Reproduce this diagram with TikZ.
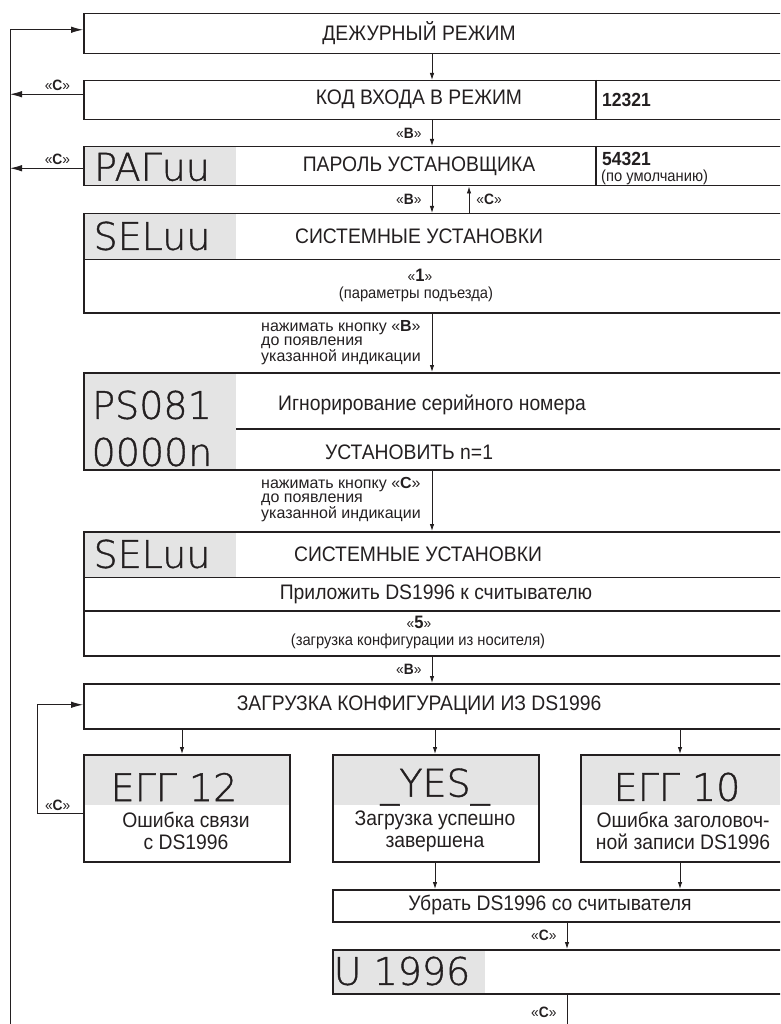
\documentclass[tikz,border=0pt]{standalone}
\usepackage{fontspec}
\setmainfont{Liberation Sans}[FakeStretch=0.92]
\newfontfamily\notefont{Liberation Sans}
\newfontfamily\lcdfont{DejaVu Sans ExtraLight}[FakeBold=1]
\usepackage{tikz}
\usetikzlibrary{arrows.meta}
\definecolor{ink}{HTML}{231F20}
\definecolor{lcdgray}{HTML}{E4E4E4}
\tikzset{
  >={Latex[length=7pt,width=4.5pt]},
  every node/.style={text=ink,inner sep=0pt},
  box/.style={draw=ink,line width=1.5pt,anchor=north west,minimum width=760pt,minimum height=#1},
  lcd/.style={fill=lcdgray,anchor=north west,minimum width=153pt,minimum height=#1},
  rule/.style={draw=ink,line width=1.5pt},
  arr/.style={->,line width=0.9pt,draw=ink},
  wire/.style={line width=0.9pt,draw=ink},
  back/.style={-{Latex[length=12pt,width=6.5pt]},line width=0.9pt,draw=ink},
  big/.style={font=\fontsize{21}{22}\selectfont,align=center},
  sub/.style={font=\fontsize{16}{16}\selectfont},
  note/.style={font=\notefont\fontsize{16}{14}\selectfont,align=left,anchor=north west},
  key/.style={font=\fontsize{15}{15}\selectfont},
  num/.style={font=\fontsize{19}{19}\selectfont\bfseries,anchor=west},
  digits/.style={font=\lcdfont\fontsize{38}{38}\selectfont}
}
\begin{document}
\begin{tikzpicture}[x=1pt,y=-1pt]
  \path[use as bounding box] (0,0) rectangle (780,1024);
  \clip (0,0) rectangle (780,1024);
  \coordinate (rail) at (10,1030);
  \coordinate (mid) at (432,0);
  \coordinate (up) at (469,0);
  \coordinate (div) at (596,0);
  \coordinate (colA) at (182,0);
  \coordinate (colB) at (435,0);
  \coordinate (colC) at (680,0);
  \coordinate (colD) at (567,0);
  \coordinate (lx) at (37,0);
  \coordinate (exit) at (567,1030);

  \node[lcd=39pt] (parL) at (83,146) {};
  \node[lcd=46pt] (sel1L) at (83,213) {};
  \node[lcd=97pt] (psL) at (83,372) {};
  \node[lcd=46pt] (sel2L) at (83,531) {};
  \node[lcd=51pt,minimum width=206pt] (e12L) at (83,754) {};
  \node[lcd=51pt,minimum width=206pt] (yesL) at (332,754) {};
  \node[lcd=51pt,minimum width=220pt] (e10L) at (580,754) {};
  \node[lcd=44pt] (u96L) at (332,949) {};

  \node[box=40pt] (dej) at (83,13) {};
  \node[box=39pt] (kod) at (83,80) {};
  \node[box=39pt] (par) at (83,146) {};
  \node[box=99pt] (sel1) at (83,213) {};
  \node[box=97pt] (ps) at (83,372) {};
  \node[box=124pt] (sel2) at (83,531) {};
  \node[box=45pt] (zag) at (83,683) {};
  \node[box=107pt,minimum width=206pt] (e12) at (83,754) {};
  \node[box=107pt,minimum width=206pt] (yes) at (332,754) {};
  \node[box=107pt] (e10) at (580,754) {};
  \node[box=32pt] (ubr) at (332,889) {};
  \node[box=44pt] (u96) at (332,949) {};

  \draw[rule] (kod.north -| div) -- (kod.south -| div);
  \draw[rule] (par.north -| div) -- (par.south -| div);
  \draw[rule] (sel1L.south west) -- +(720,0);
  \draw[rule] (236,429) -- +(600,0);
  \draw[rule] (sel2L.south west) -- +(720,0);
  \draw[rule] (83,611) -- +(720,0);

  \node[big] (dejT) at (419,33) {ДЕЖУРНЫЙ РЕЖИМ};
  \node[big] (kodT) at (419,99) {КОД ВХОДА В РЕЖИМ};
  \node[num] (kodN) at (602,100) {12321};
  \node[digits] (parD) at (152,167) {PAГuu};
  \node[big] (parT) at (419,166) {ПАРОЛЬ УСТАНОВЩИКА};
  \node[num] (parN) at (602,159) {54321};
  \node[sub,anchor=west] (parS) at (601,177) {(по умолчанию)};
  \node[digits] (sel1D) at (152,236) {SELuu};
  \node[big] (sel1T) at (419,236) {СИСТЕМНЫЕ УСТАНОВКИ};
  \node[key] (sel1K) at (420,275) {«{\fontsize{18}{18}\selectfont\bfseries 1}»};
  \node[sub] (sel1S) at (416,294) {(параметры подъезда)};
  \node[note] (noteB) at (261,320) {нажимать кнопку «\textbf{B}»\\до появления\\указанной индикации};
  \node[digits] (psD1) at (152,405) {PS081};
  \node[digits] (psD2) at (152,452) {0000n};
  \node[big] (psT1) at (432,405) {Игнорирование серийного номера};
  \node[big] (psT2) at (409,452) {УСТАНОВИТЬ n=1};
  \node[note] (noteC) at (261,477) {нажимать кнопку «\textbf{C}»\\до появления\\указанной индикации};
  \node[digits] (sel2D) at (152,554) {SELuu};
  \node[big] (sel2T) at (418,554) {СИСТЕМНЫЕ УСТАНОВКИ};
  \node[big] (sel2P) at (436,594) {Приложить DS1996 к считывателю};
  \node[key] (sel2K) at (419,622) {«{\fontsize{18}{18}\selectfont\bfseries 5}»};
  \node[sub] (sel2S) at (418,641) {(загрузка конфигурации из носителя)};
  \node[big] (zagT) at (419,705) {ЗАГРУЗКА КОНФИГУРАЦИИ ИЗ DS1996};
  \node[digits] (e12D) at (174,787) {EГГ 12};
  \node[big] (e12T) at (186,831) {Ошибка связи\\с DS1996};
  \node[digits] (yesD) at (435,787) {\_YES\_};
  \node[big] (yesT) at (435,831) {Загрузка успешно\\завершена};
  \node[digits] (e10D) at (677,787) {EГГ 10};
  \node[big] (e10T) at (683,831) {Ошибка заголовоч-\\ной записи DS1996};
  \node[big] (ubrT) at (550,905) {Убрать DS1996 со считывателя};
  \node[digits] (u96D) at (402,971) {U 1996};

  \draw[arr] (dej.south -| mid) -- (kod.north -| mid);
  \draw[arr] (kod.south -| mid) -- node[key,left=10pt] (kB1) {«\textbf{B}»} (par.north -| mid);
  \draw[arr] (par.south -| mid) -- node[key,left=10pt] (kB2) {«\textbf{B}»} (sel1.north -| mid);
  \draw[arr] (sel1.north -| up) -- node[key,right=7pt] (kC1) {«\textbf{C}»} (par.south -| up);
  \draw[arr] (sel1.south -| mid) -- (ps.north -| mid);
  \draw[arr] (ps.south -| mid) -- (sel2.north -| mid);
  \draw[arr] (sel2.south -| mid) -- node[key,left=10pt] (kB3) {«\textbf{B}»} (zag.north -| mid);
  \draw[arr] (zag.south -| colA) -- (e12.north -| colA);
  \draw[arr] (zag.south -| colB) -- (yes.north -| colB);
  \draw[arr] (zag.south -| colC) -- (e10.north -| colC);
  \draw[arr] (yes.south -| colB) -- (ubr.north -| colB);
  \draw[arr] (e10.south -| colC) -- (ubr.north -| colC);
  \draw[arr] (ubr.south -| colD) -- node[key,left=10pt] (kC2) {«\textbf{C}»} (u96.north -| colD);
  \draw[wire] (u96.south -| colD) -- node[key,left=10pt] (kC3) {«\textbf{C}»} (exit);

  \coordinate (dejC) at ([yshift=4pt]dej.west);
  \coordinate (kodC) at ([yshift=6pt]kod.west);
  \coordinate (parC) at ([yshift=-2pt]par.west);
  \coordinate (zagC) at ([yshift=1.5pt]zag.west);
  \coordinate (e12C) at ([yshift=-5.5pt]e12.west);
  \draw[back] (rail) |- (dejC);
  \draw[back] (kodC) -- node[key,above=3pt,pos=0.35] (kC4) {«\textbf{C}»} (kodC -| rail);
  \draw[back] (parC) -- node[key,above=3pt,pos=0.35] (kC5) {«\textbf{C}»} (parC -| rail);
  \draw[back] (e12C) -- node[key,above=3pt,pos=0.55] (kC6) {«\textbf{C}»} (e12C -| lx) |- (zagC);
\end{tikzpicture}
\end{document}
